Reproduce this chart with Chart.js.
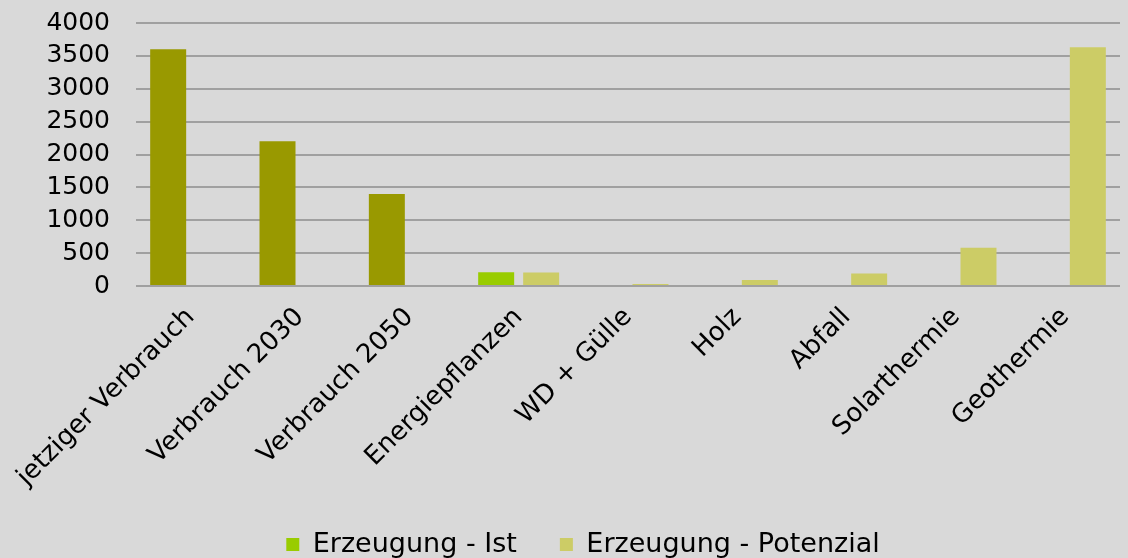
<!DOCTYPE html>
<html>
<head>
<meta charset="utf-8">
<script src="https://cdn.jsdelivr.net/npm/chart.js@4/dist/chart.umd.min.js"></script>
<style>
html,body{margin:0;padding:0;background:#d9d9d9;}
#wrap{width:1128px;height:558px;position:relative;}
</style>
</head>
<body>
<div id="wrap"><canvas id="c"></canvas></div>
<script>
const categories = ["jetziger Verbrauch","Verbrauch 2030","Verbrauch 2050","Energiepflanzen","WD + Gülle","Holz","Abfall","Solarthermie","Geothermie"];
const istValues = [3600, 2200, 1400, 210, 0, 0, 0, 0, 0];
const potenzialValues = [0, 0, 0, 205, 30, 90, 190, 580, 3630];
const yTicks = [0,500,1000,1500,2000,2500,3000,3500,4000];
const seriesNames = ["Erzeugung - Ist","Erzeugung - Potenzial"];

const verbrauchColor = '#999900';
const istColor = '#99cc00';
const potColor = '#cccc66';
const istColors = categories.map(c => c.indexOf('Verbrauch') >= 0 ? verbrauchColor : istColor);

const FONT = "'DejaVu Sans', Verdana, sans-serif";
Chart.defaults.font.family = FONT;
Chart.defaults.color = '#000';

new Chart(document.getElementById('c'), {
  type: 'bar',
  data: {
    labels: categories,
    datasets: [
      {label: seriesNames[0], data: istValues, backgroundColor: istColors, categoryPercentage: 0.823, barPercentage: 0.8},
      {label: seriesNames[1], data: potenzialValues, backgroundColor: potColor, categoryPercentage: 0.823, barPercentage: 0.8}
    ]
  },
  options: {
    responsive: true,
    maintainAspectRatio: false,
    animation: false,
    layout: {padding: {left: 46, right: 8, top: 23, bottom: -10}},
    plugins: {
      tooltip: {enabled: false},
      legend: {
        position: 'bottom',
        labels: {
          font: {size: 27, family: FONT},
          color: '#000',
          boxWidth: 13, boxHeight: 13,
          padding: 43,
          generateLabels: (chart) => chart.data.datasets.map((ds, i) => ({
            text: ds.label,
            fillStyle: i === 0 ? istColor : potColor,
            strokeStyle: 'rgba(0,0,0,0)',
            lineWidth: 0,
            datasetIndex: i,
            hidden: false
          }))
        }
      }
    },
    scales: {
      x: {
        grid: {display: false, drawTicks: false},
        border: {display: false},
        ticks: {font: {size: 26, family: FONT}, color: '#000', minRotation: 45, maxRotation: 45, autoSkip: false, padding: 16},
        afterFit: (axis) => {
          axis.height = 202; axis.paddingLeft = 0; axis.paddingRight = 0;
          axis._computeLabelArea = function () {
            return {top: this.top, left: 0, bottom: this.chart.height, right: this.chart.width};
          };
        }
      },
      y: {
        min: 0, max: 4000,
        afterBuildTicks: (axis) => { axis.ticks = yTicks.map(v => ({value: v})); },
        grid: {color: '#a0a0a0', lineWidth: 2, drawTicks: false},
        border: {display: false},
        ticks: {font: {size: 25, family: FONT}, color: '#000', padding: 26, autoSkip: false, callback: (v) => String(v)},
        afterFit: (axis) => { axis.width = 90; axis.paddingTop = 0; axis.paddingBottom = 0; }
      }
    }
  }
});
</script>
</body>
</html>
